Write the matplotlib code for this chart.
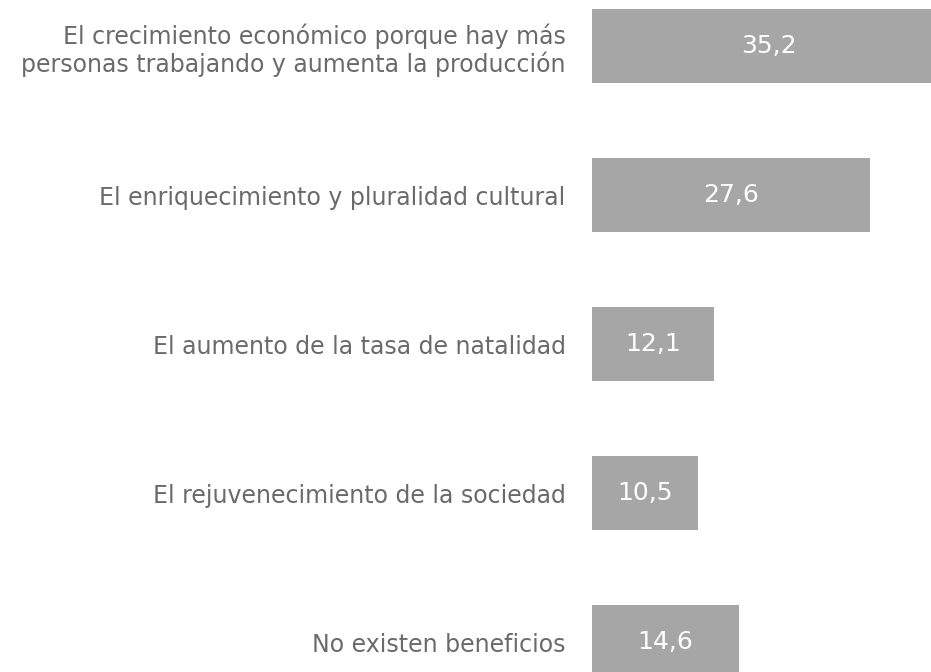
import matplotlib
matplotlib.use('Agg')
import matplotlib.pyplot as plt
import numpy as np

etiquetas = ['El crecimiento económico porque hay más\npersonas trabajando y aumenta la producción',
             'El enriquecimiento y pluralidad cultural',
             'El aumento de la tasa de natalidad',
             'El rejuvenecimiento de la sociedad',
             'No existen beneficios']
valores = [35.2, 27.6, 12.1, 10.5, 14.6]

plt.rcParams['font.family'] = ['DejaVu Sans']

fig = plt.figure(figsize=(9.31, 6.72), dpi=100)
ax = fig.add_axes([592/931, 0, 1 - 592/931, 1])

pos = np.arange(len(valores))
ax.barh(pos, valores, height=0.5, color='#a6a6a6')

ax.set_xlim(0, 339/10.07)
ax.set_ylim((672-46)/149, -46/149)

for p, v in zip(pos, valores):
    ax.text(v/2, p, ('%.1f' % v).replace('.', ','), ha='center', va='center',
            color='white', fontsize=18)

ax.set_yticks(pos)
ax.set_yticklabels(etiquetas, fontsize=17, color='#6a6a6a',
                   linespacing=1.15)
ax.tick_params(axis='y', length=0, pad=19)
ax.set_xticks([])
for s in ax.spines.values():
    s.set_visible(False)

fig.savefig('out.png', dpi=100)
